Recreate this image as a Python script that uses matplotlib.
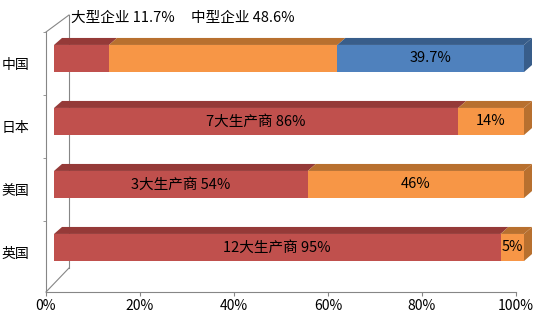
import matplotlib
matplotlib.use("Agg")
import matplotlib.pyplot as plt
import matplotlib.transforms as mtransforms
from matplotlib.patches import Polygon

plt.rcParams['font.family'] = ['Noto Sans CJK SC', 'DejaVu Sans']

# data (bottom to top)
countries = ['英国', '美国', '日本', '中国']
large = [95, 54, 86, 11.7]      # red segment
medium = [5, 46, 14, 48.6]      # orange segment
small = [0, 0, 0, 39.7]         # blue segment
labels_large = ['12大生产商 95%', '3大生产商 54%', '7大生产商 86%', '']
labels_medium = ['5%', '46%', '14%', '']
labels_small = ['', '', '', '39.7%']
note = '大型企业 11.7%     中型企业 48.6%'
xticks = [0, 20, 40, 60, 80, 100]

face = ['#C0504D', '#F79646', '#4F81BD']
shade = ['#953A38', '#B8702F', '#385D8A']
grey = '#868686'

W, H = 542, 324
fig = plt.figure(figsize=(W / 100, H / 100), dpi=100)
ax = fig.add_axes([46 / W, 32 / H, 470 / W, 260 / H])
ax.set_xlim(0, 100)
ax.set_ylim(-0.627, 3.5)

# pseudo 3d: front face shifted, depth in data units
front = ax.transData + mtransforms.ScaledTranslation(8 / 100, 5 / 100, fig.dpi_scale_trans)
ddx = 8 / 4.70
ddy = 7 / 63
bh = 0.43

# back wall lines
wx, wyt, wyb = 23 / 470, 17 / 260, 24 / 260
ax.plot([0, wx], [1, 1 + wyt], color=grey, lw=0.8, transform=ax.transAxes, clip_on=False, zorder=0)
ax.plot([wx, wx], [1 + wyt, wyb], color=grey, lw=0.8, transform=ax.transAxes, clip_on=False, zorder=0)
ax.plot([0, wx], [0, wyb], color=grey, lw=0.8, transform=ax.transAxes, clip_on=False, zorder=0)

for i in range(len(countries)):
    segs = [large[i], medium[i], small[i]]
    texts = [labels_large[i], labels_medium[i], labels_small[i]]
    left = 0
    last = max(k for k in range(3) if segs[k] > 0)
    for k in range(3):
        w = segs[k]
        if w <= 0:
            continue
        y0, y1 = i - bh / 2, i + bh / 2
        ax.barh(i, w, left=left, height=bh, color=face[k], transform=front,
                clip_on=False, zorder=2)
        top = Polygon([(left, y1), (left + w, y1), (left + w + ddx, y1 + ddy), (left + ddx, y1 + ddy)],
                      closed=True, facecolor=shade[k], edgecolor='none', transform=front,
                      clip_on=False, zorder=1)
        ax.add_patch(top)
        if k == last:
            side = Polygon([(left + w, y0), (left + w, y1), (left + w + ddx, y1 + ddy), (left + w + ddx, y0 + ddy)],
                           closed=True, facecolor=shade[k], edgecolor='none', transform=front,
                           clip_on=False, zorder=1)
            ax.add_patch(side)
        if texts[k]:
            ax.text(left + w / 2, i, texts[k], ha='center', va='center', fontsize=10.5,
                    color='black', transform=front, zorder=3)
        left += w

ax.text(25 / 470, 1 + 14 / 260, note, transform=ax.transAxes, ha='left', va='center',
        fontsize=10.5, color='black')

# axes styling
for s in ['top', 'right']:
    ax.spines[s].set_visible(False)
for s in ['left', 'bottom']:
    ax.spines[s].set_color(grey)
    ax.spines[s].set_linewidth(0.8)

ax.set_xticks(xticks)
ax.set_xticklabels([f'{v}%' for v in xticks])
ax.tick_params(axis='x', direction='out', length=3, color=grey, pad=2, labelsize=10)

ax.set_yticks(range(len(countries)))
ax.set_yticklabels(countries)
ax.set_yticks([0.5, 1.5, 2.5, 3.5], minor=True)
ax.tick_params(axis='y', which='major', length=0, pad=12, labelsize=10)
ax.tick_params(axis='y', which='minor', direction='out', length=2.5, color=grey)

fig.savefig('out.png', dpi=100)
